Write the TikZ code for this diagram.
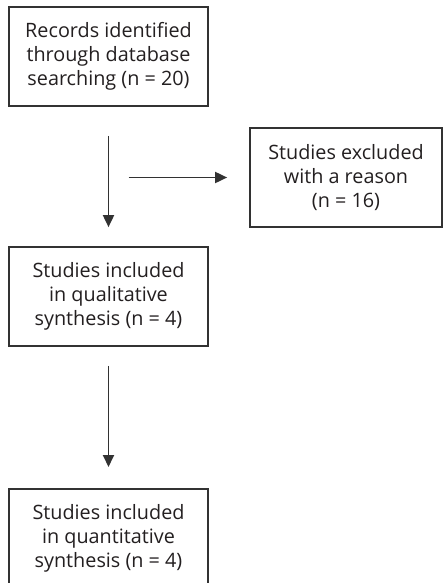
\documentclass[tikz,border=0pt]{standalone}
\usepackage{fontspec}
\setmainfont{Open Sans}
\usetikzlibrary{arrows.meta}
\definecolor{nline}{RGB}{50, 50, 50}
\definecolor{ntext}{RGB}{35, 31, 32}

\begin{document}
\begin{tikzpicture}[x=1pt, y=-1pt, line width=1.8pt, draw=nline,
    box/.style={draw=nline, line width=1.7pt, text=ntext, align=center,
        minimum height=99pt, inner sep=0pt,
        font=\fontsize{19.8}{24}\selectfont},
    flow/.style={nline, -{Triangle[width=11pt, length=12pt]}}]
    \clip (0,0) rectangle (444,583);
    \node[box, minimum width=199pt] (records) at (108.5,56.5)
        {Records identified\\through database\\searching (n = 20)};
    \node[box, minimum width=192pt] (excluded) at (346,177.5)
        {Studies excluded\\with a reason\\(n = 16)};
    \node[box, minimum width=199pt] (qual) at (108.5,296.5)
        {Studies included\\in qualitative\\synthesis (n = 4)};
    \node[box, minimum width=199pt, anchor=north] (quant) at (108.5,488)
        {Studies included\\in quantitative\\synthesis (n = 4)};
    \coordinate (split) at (records.south |- excluded.west);

    \draw [flow, shorten <=29pt, shorten >=19pt] (records) -- (qual);
    \draw [flow, shorten <=20pt, shorten >=22pt] (split) -- (excluded);
    \draw [flow, shorten <=19pt, shorten >=21pt] (qual) -- (quant);
\end{tikzpicture}
\end{document}
